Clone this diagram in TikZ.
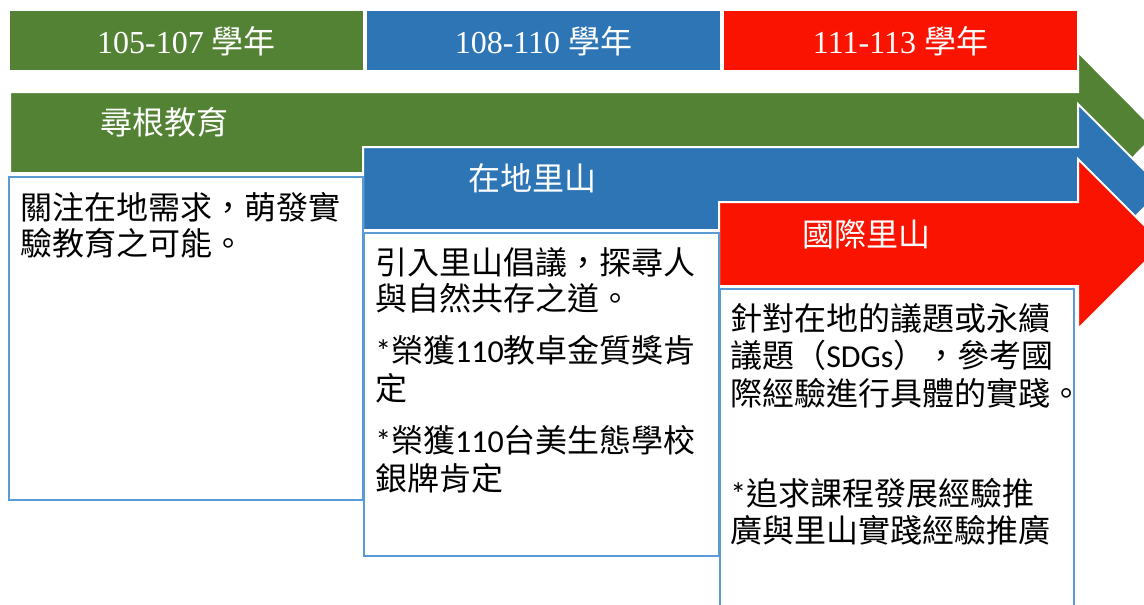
\documentclass[tikz,border=0pt]{standalone}
\usepackage{fontspec}
\setmainfont{Noto Sans CJK TC}
\newfontfamily\lat{Carlito}
\newfontfamily\tnr{Liberation Serif}
\definecolor{pgreen}{RGB}{84,130,53}
\definecolor{pblue}{RGB}{46,117,182}
\definecolor{pred}{RGB}{250,20,0}
\definecolor{pframe}{RGB}{91,155,213}
\begin{document}
\begin{tikzpicture}[x=0.75pt,y=-0.75pt,
  hdr/.style={text=white,font=\fontsize{24}{28}\selectfont,anchor=base,inner sep=0pt},
  lbl/.style={text=white,font=\fontsize{24}{28}\selectfont,anchor=base west,inner sep=0pt},
  txt/.style={text=black,font=\fontsize{24}{28}\selectfont,anchor=base west,inner sep=0pt},
  frame/.style={draw=pframe,line width=1.6pt,fill=white},
  arrowshape/.style={draw=white,line width=1.5pt,line join=miter}]
\useasboundingbox (0,0) rectangle (1144,604);
\fill[white] (0,0) rectangle (1144,604);
\begin{scope}
\clip (0,0) rectangle (1144,604);
% header boxes
\fill[pgreen] (10,11) rectangle (363,70);
\fill[pblue] (367,11) rectangle (720,70);
\fill[pred] (724,11) rectangle (1077,70);
% arrows
\filldraw[pgreen,arrowshape] (10,92) -- (1078,92) -- (1078,52) -- (1158,132.5) -- (1078,213) -- (1078,173) -- (10,173) -- cycle;
\filldraw[pblue,arrowshape] (363,147) -- (1078,147) -- (1078,104) -- (1163,189) -- (1078,274) -- (1078,230) -- (363,230) -- cycle;
\filldraw[pred,arrowshape] (719,202) -- (1078,202) -- (1078,159) -- (1163,244) -- (1078,329) -- (1078,286) -- (719,286) -- cycle;
% text frames
\draw[frame] (9,177) rectangle (363,500);
\draw[frame] (364,233) rectangle (719,556);
\draw[frame] (720,289) rectangle (1074,620);
\end{scope}
% header labels
\node[hdr] (h1) at (186.5,53) {{\tnr 105-107 }學年};
\node[hdr] (h2) at (543.5,53) {{\tnr 108-110 }學年};
\node[hdr] (h3) at (900.5,53) {{\tnr 111-113 }學年};
% arrow labels
\node[lbl] (l1) at (100,134) {尋根教育};
\node[lbl] (l2) at (468,190) {在地里山};
\node[lbl] (l3) at (802,246) {國際里山};
% box 1
\node[txt] (a1) at (20,219) {關注在地需求，萌發實};
\node[txt] (a2) at (20,255) {驗教育之可能。};
% box 2
\node[txt] (b1) at (375,274) {引入里山倡議，探尋人};
\node[txt] (b2) at (375,310) {與自然共存之道。};
\node[txt] (b3) at (375,362) {{\lat *}榮獲{\lat 110}教卓金質獎肯};
\node[txt] (b4) at (375,400) {定};
\node[txt] (b5) at (375,452) {{\lat *}榮獲{\lat 110}台美生態學校};
\node[txt] (b6) at (375,490) {銀牌肯定};
% box 3
\node[txt] (c1) at (730,330) {針對在地的議題或永續};
\node[txt] (c2) at (730,367) {議題（{\lat SDGs}），參考國};
\node[txt] (c3) at (730,405) {際經驗進行具體的實踐。};
\node[txt] (c4) at (730,505) {{\lat *}追求課程發展經驗推};
\node[txt] (c5) at (730,542) {廣與里山實踐經驗推廣};
\end{tikzpicture}
\end{document}
